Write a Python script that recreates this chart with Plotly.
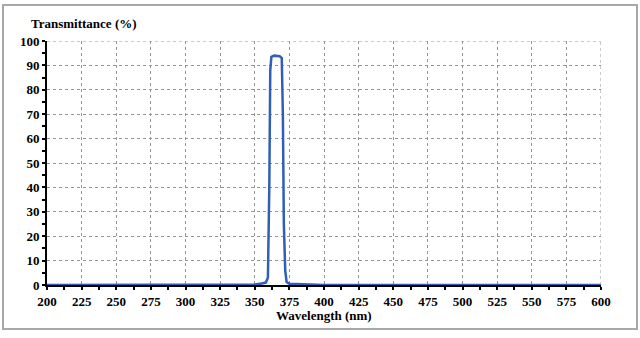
import plotly.graph_objects as go

wavelength = [200, 250, 300, 330, 345, 350, 355, 358, 359.5, 360.5, 361.2, 362, 364, 366, 368, 369.5, 370.3, 371, 372, 373, 375, 380, 390, 400, 450, 500, 550, 600]
transmittance = [0, 0, 0, 0, 0, 0.2, 0.6, 1.0, 3, 40, 88, 93.5, 94, 94, 93.8, 93, 70, 25, 6, 1.2, 0.5, 0.4, 0.2, 0, 0, 0, 0, 0]

x_ticks = list(range(200, 601, 25))
y_ticks = list(range(0, 101, 10))

font_family = "Liberation Serif, Times New Roman, serif"

fig = go.Figure()
fig.add_trace(go.Scatter(
    x=wavelength, y=transmittance, mode="lines",
    line=dict(color="#2f5fb6", width=2.5),
    hoverinfo="skip", showlegend=False, cliponaxis=False,
))

PW, PH = 554, 244
grid_col = "#959595"

fig.update_layout(
    width=640, height=338,
    margin=dict(l=47, r=39, t=41, b=53),
    paper_bgcolor="white", plot_bgcolor="white",
    font=dict(family=font_family, color="black", size=13),
    xaxis=dict(
        range=[200, 600], tickvals=x_ticks,
        showgrid=True, gridcolor=grid_col, griddash="dot", gridwidth=1,
        showline=True, linecolor="black", linewidth=2,
        ticks="outside", ticklen=3, tickcolor="black", tickwidth=2,
        minor=dict(dtick=12.5, tick0=200, ticks="outside", ticklen=3, tickcolor="black", tickwidth=2, showgrid=False),
        tickfont=dict(family=font_family, size=13, weight="bold", color="black"),
        zeroline=False, fixedrange=True,
    ),
    yaxis=dict(
        range=[0, 100], tickvals=y_ticks,
        showgrid=True, gridcolor=grid_col, griddash="dot", gridwidth=1,
        showline=True, linecolor="black", linewidth=2,
        ticks="outside", ticklen=3, tickcolor="black", tickwidth=2,
        minor=dict(dtick=5, tick0=0, ticks="outside", ticklen=3, tickcolor="black", tickwidth=2, showgrid=False),
        tickfont=dict(family=font_family, size=13, weight="bold", color="black"),
        zeroline=False, fixedrange=True,
    ),
    shapes=[
        dict(type="line", xref="x", yref="paper", x0=600, x1=600, y0=0, y1=1,
             line=dict(color=grid_col, width=1, dash="dot")),
        dict(type="line", xref="paper", yref="y", x0=0, x1=1, y0=100, y1=100,
             line=dict(color=grid_col, width=1, dash="dot")),
        dict(type="rect", xref="paper", yref="paper",
             x0=(3 - 47) / PW, x1=(637 - 47) / PW,
             y0=-(329 - 285) / PH, y1=1 + (41 - 5) / PH,
             line=dict(color="#a8a8a8", width=2), layer="below"),
    ],
    annotations=[
        dict(text="<b>Transmittance (%)</b>", xref="paper", yref="paper",
             x=(29 - 47) / PW, y=1.0, yshift=18, xanchor="left", yanchor="middle",
             showarrow=False, font=dict(family=font_family, size=13, color="black")),
        dict(text="<b>Wavelength (nm)</b>", xref="paper", yref="paper",
             x=0.5, y=0, yshift=-30, xanchor="center", yanchor="middle",
             showarrow=False, font=dict(family=font_family, size=13, color="black")),
    ],
)

fig.write_html("out.html", config={"displayModeBar": False},
               post_script="document.body.style.margin='0';")
